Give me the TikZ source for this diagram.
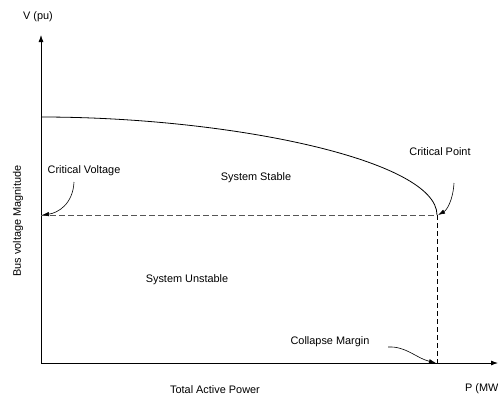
\documentclass[tikz,border=0pt]{standalone}
\usepackage{fontspec}
\setmainfont{Liberation Sans}
\usepackage{xcolor}
\usepackage{tikz}
\usetikzlibrary{positioning, arrows.meta, calc}
\definecolor{axis}{HTML}{000000}
\definecolor{guide}{HTML}{555555}

\begin{document}
\begin{tikzpicture}[
    x=1pt, y=-1pt,
    font=\fontsize{10.9}{13}\selectfont,
    lbl/.style={inner sep=0pt, text=black},
    axisline/.style={-{Latex[length=7pt, width=5pt]}, draw=axis, line width=0.8pt},
    pv/.style={draw=black, line width=0.8pt},
    guideh/.style={draw=guide, dashed, dash pattern=on 6pt off 3pt, line width=0.9pt},
    guidev/.style={draw=black, dashed, dash pattern=on 5pt off 3pt, line width=0.8pt},
    callout/.style={-{Latex[length=7pt, width=4.5pt]}, draw=black, line width=0.6pt},
  ]
  \useasboundingbox (0,0) rectangle (498,400);
  \coordinate (origin) at (41,363);
  \coordinate (ytip) at (41,35);
  \coordinate (xtip) at (498,363);
  \coordinate (vstart) at (41,117);
  \coordinate (critpt) at (437,215);
  \coordinate (critv) at (41,215);
  \coordinate (margin) at (437,363);
  \draw[axisline] (origin) -- (ytip);
  \draw[axisline] (origin) -- (xtip);
  \draw[pv] (vstart) .. controls (230,117) and (437,160) .. (critpt);
  \draw[guideh] (critv) -- (critpt);
  \draw[guidev] (critpt) -- (margin);
  \node[lbl] (vlabel) at (38,17) {V (pu)};
  \node[lbl, rotate=90] (ylabel) at (18,221) {Bus voltage Magnitude};
  \node[lbl] (xlabel) at (215,390) {Total Active Power};
  \node[lbl, anchor=west] (plabel) at (465,389) {P (MW};
  \node[lbl] (cvtext) at (84,171) {Critical Voltage};
  \node[lbl] (stable) at (256,178) {System Stable};
  \node[lbl] (cptext) at (440,152) {Critical Point};
  \node[lbl] (unstable) at (187,280) {System Unstable};
  \node[lbl] (cmtext) at (330,342) {Collapse Margin};
  \coordinate (cvfrom) at (74,182);
  \coordinate (cpfrom) at (454,183);
  \coordinate (cmfrom) at (388,347);
  \draw[callout] (cvfrom) .. controls (73,204) and (58,213) .. ([xshift=1pt]critv);
  \draw[callout] (cpfrom) .. controls (453,200) and (447,210) .. ([xshift=1pt]critpt);
  \draw[callout] (cmfrom) .. controls (406,346) and (416,358) .. ([xshift=-1pt]margin);
\end{tikzpicture}
\end{document}
